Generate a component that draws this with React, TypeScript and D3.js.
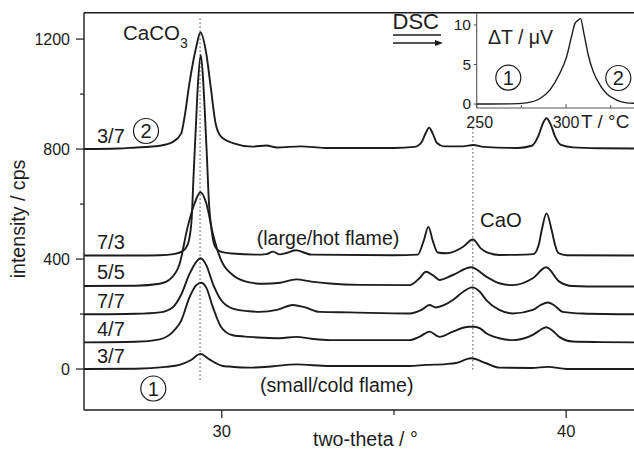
import React from "react";
import * as d3 from "d3";

// ---------- data ----------
// XRD patterns: [two-theta (deg), intensity (cps)] incl. vertical offset
const pattern37cold: [number, number][] = [
  [26, 0], [27.5, 1], [28.38, 8], [28.77, 15], [29.11, 33], [29.38, 55], [29.64, 35], [30.03, 11],
  [30.22, 9], [30.8, 5], [31.5, 10], [32.16, 17], [33.13, 11], [35.45, 11], [35.93, 15], [36.5, 18],
  [36.8, 22], [37.24, 39], [37.68, 21], [38.06, 5], [39.0, 4], [39.47, 8], [40.02, 0], [42, 0],
];
const pattern47: [number, number][] = [
  [26, 97], [27.5, 99], [28.2, 108], [28.58, 135], [28.82, 175], [29.06, 260], [29.26, 305], [29.4, 314],
  [29.55, 296], [29.74, 226], [29.98, 153], [30.32, 123], [30.8, 117], [31.2, 114], [31.68, 112],
  [32.16, 117], [32.6, 110], [33.13, 105], [35.45, 105], [35.75, 118], [36.03, 136], [36.32, 117],
  [36.71, 136], [37.0, 150], [37.19, 154], [37.34, 154], [37.5, 148], [37.68, 130], [38.06, 112],
  [38.45, 105], [39.03, 124], [39.25, 142], [39.42, 152], [39.6, 140], [39.8, 117], [40.19, 100],
  [41, 98], [42, 97],
];
const pattern77: [number, number][] = [
  [26, 199], [27.5, 201], [28.2, 206], [28.58, 225], [28.82, 270], [29.06, 345], [29.26, 390], [29.38, 403],
  [29.55, 378], [29.74, 311], [29.98, 251], [30.32, 220], [30.8, 210], [31.1, 208], [31.6, 215],
  [32.06, 233], [32.4, 225], [32.84, 208], [33.71, 206], [35.45, 202], [35.8, 215], [36.03, 233],
  [36.22, 224], [36.45, 232], [36.71, 251], [37.0, 280], [37.27, 297], [37.5, 280], [37.68, 251],
  [38.06, 215], [38.45, 202], [39.03, 215], [39.25, 232], [39.47, 242], [39.65, 232], [39.9, 208],
  [40.48, 202], [42, 199],
];
const pattern55: [number, number][] = [
  [26, 302], [27.5, 303], [28.2, 310], [28.48, 325], [28.77, 380], [29.01, 517], [29.21, 602], [29.38, 643],
  [29.55, 603], [29.74, 493], [29.98, 396], [30.32, 342], [30.8, 315], [31.2, 310], [31.7, 314],
  [32.16, 326], [32.6, 318], [33.13, 311], [34, 306], [35.45, 305], [35.74, 330], [35.93, 354],
  [36.18, 336], [36.32, 324], [36.71, 342], [37.24, 370], [37.68, 336], [38.06, 312], [38.45, 305],
  [39.03, 330], [39.42, 370], [39.8, 318], [40.19, 302], [41, 300], [42, 300],
];
const pattern73: [number, number][] = [
  [26, 413], [27.5, 413], [28.2, 414], [28.6, 418], [28.85, 428], [28.97, 443], [29.05, 470], [29.13, 554],
  [29.18, 700], [29.24, 860], [29.31, 1040], [29.39, 1142], [29.46, 1050], [29.52, 903], [29.57, 770],
  [29.63, 600], [29.7, 510], [29.79, 450], [29.95, 428], [30.3, 420], [31.0, 416], [31.3, 418],
  [31.49, 427], [31.68, 417], [31.9, 423], [32.16, 432], [32.4, 423], [32.6, 416], [35.0, 414],
  [35.69, 416], [35.86, 465], [36.0, 517], [36.13, 465], [36.27, 424], [36.52, 421], [37.0, 444],
  [37.29, 471], [37.53, 438], [37.72, 423], [38.06, 415], [38.8, 416], [39.05, 418], [39.2, 450],
  [39.29, 505], [39.43, 566], [39.58, 505], [39.68, 450], [39.77, 422], [40.02, 414], [42, 413],
];
const pattern37hot: [number, number][] = [
  [26, 800], [27, 802], [27.43, 805], [28.2, 812], [28.58, 826], [28.82, 856], [28.92, 917], [29.06, 1038],
  [29.26, 1172], [29.38, 1224], [29.55, 1148], [29.69, 1015], [29.82, 894], [29.98, 845], [30.32, 822],
  [30.9, 809], [31.3, 813], [31.6, 806], [32.3, 810], [33, 804], [35, 804], [35.6, 808], [35.8, 825],
  [35.93, 860], [36.02, 878], [36.12, 858], [36.25, 822], [36.45, 810], [37.0, 810], [37.3, 815],
  [37.6, 808], [38.6, 804], [39.0, 812], [39.2, 850], [39.33, 895], [39.43, 912], [39.55, 890],
  [39.68, 845], [39.85, 815], [40.2, 806], [41, 803], [42, 802],
];

const patterns = [pattern37cold, pattern47, pattern77, pattern55, pattern73, pattern37hot];
const sampleLabels = ["3/7", "4/7", "7/7", "5/5", "7/3", "3/7"];

// reference reflections (two-theta) and the extent of their dotted marker lines (cps)
const refPositions = [29.37, 37.29];
const refTop = [1275, 876];
const refBottom = [-50, -10];

const yTicksMajor = [0, 400, 800, 1200];
const yTicksMinor = [200, 600, 1000];
const xTicksMajor = [30, 40];
const xTicksMinor = [35];

// DSC inset: temperature (deg C) and delta T (microvolt)
const dscT = [250, 268.6, 277.9, 285.4, 291, 296.5, 300.3, 303, 305, 306.2, 308.1, 310, 312.4, 315.2, 319, 322.7, 328.3, 333.9, 338];
const dscDT = [0, 0.02, 0.15, 0.7, 1.8, 3.9, 6.0, 8.5, 10.2, 10.5, 10.8, 8.9, 6.2, 4.1, 2.4, 1.3, 0.5, 0.15, 0.1];
const dscYTicks = [0, 5, 10];
const dscXTicksMajor = [250, 300];
const dscXTicksMinor = [275, 325];

const FONT = "'Liberation Sans', Arial, Helvetica, sans-serif";
const INK = "#1c1c1c";

export default function App() {
  const W = 634;
  const H = 450;
  const left = 84, top = 12.7, bottom = 410, right = 634;

  const x = d3.scaleLinear().domain([26, 42]).range([left, left + 16 * 34.44]);
  const y = d3.scaleLinear().domain([-149, 1296]).range([bottom, top]);

  const line = d3
    .line<[number, number]>()
    .x((d) => x(d[0]))
    .y((d) => y(d[1]))
    .curve(d3.curveMonotoneX);

  // inset scales
  const iLeft = 476.7, iBottom = 108;
  const tx = d3.scaleLinear().domain([250, 338]).range([iLeft, 634]);
  const ty = d3.scaleLinear().domain([-0.5, 11.55]).range([iBottom, top]);
  const dscLine = d3
    .line<number>()
    .x((_, i) => tx(dscT[i]))
    .y((d) => ty(d))
    .curve(d3.curveMonotoneX);

  const circled = (cx: number, cy: number, label: string, key: string) => (
    <g key={key}>
      <circle cx={cx} cy={cy} r={12.5} fill="none" stroke={INK} strokeWidth={1.2} />
      <text x={cx} y={cy + 7} textAnchor="middle" fontSize={20} fill={INK}>
        {label}
      </text>
    </g>
  );

  return (
    <svg width={W} height={H} style={{ position: "absolute", left: 0, top: 0, background: "#fff" }} fontFamily={FONT}>
      <defs>
        <clipPath id="plotClip">
          <rect x={left} y={top} width={right - left} height={bottom - top} />
        </clipPath>
      </defs>
      <rect x={0} y={0} width={W} height={H} fill="#fff" />

      {/* dotted reference lines */}
      {refPositions.map((p, i) => (
        <line
          key={"ref" + i}
          x1={x(p)}
          x2={x(p)}
          y1={y(refTop[i])}
          y2={y(refBottom[i])}
          stroke="#444"
          strokeWidth={1.2}
          strokeDasharray="1.3,2.7"
        />
      ))}

      {/* patterns */}
      <g clipPath="url(#plotClip)">
        {patterns.map((p, i) => (
          <path key={"p" + i} d={line(p) || ""} fill="none" stroke={INK} strokeWidth={1.9} strokeLinejoin="round" />
        ))}
      </g>

      {/* frame */}
      <line x1={left} x2={right} y1={top} y2={top} stroke={INK} strokeWidth={1.4} />
      <line x1={left} x2={left} y1={top} y2={bottom} stroke={INK} strokeWidth={1.4} />
      <line x1={left} x2={right} y1={bottom} y2={bottom} stroke={INK} strokeWidth={1.4} />

      {/* y ticks */}
      {yTicksMajor.map((v) => (
        <g key={"yt" + v}>
          <line x1={left - 8} x2={left} y1={y(v)} y2={y(v)} stroke={INK} strokeWidth={1.2} />
          <text x={70} y={y(v) + 5.5} textAnchor="end" fontSize={16} fill={INK}>
            {v}
          </text>
        </g>
      ))}
      {yTicksMinor.map((v) => (
        <line key={"ym" + v} x1={left - 4} x2={left} y1={y(v)} y2={y(v)} stroke={INK} strokeWidth={1.2} />
      ))}

      {/* x ticks */}
      {xTicksMajor.map((v) => (
        <g key={"xt" + v}>
          <line x1={x(v)} x2={x(v)} y1={bottom} y2={bottom + 8} stroke={INK} strokeWidth={1.2} />
          <text x={x(v)} y={437} textAnchor="middle" fontSize={16.5} fill={INK}>
            {v}
          </text>
        </g>
      ))}
      {xTicksMinor.map((v) => (
        <line key={"xm" + v} x1={x(v)} x2={x(v)} y1={bottom} y2={bottom + 5} stroke={INK} strokeWidth={1.2} />
      ))}

      {/* axis titles */}
      <text x={313} y={446} fontSize={19.6} fill={INK}>
        two-theta / °
      </text>
      <text transform="translate(25,219) rotate(-90)" textAnchor="middle" fontSize={19.6} fill={INK}>
        intensity / cps
      </text>

      {/* sample labels */}
      {patterns.map((p, i) => (
        <text key={"lab" + i} x={97} y={y(p[0][1]) - 6.5} fontSize={20} fill={INK}>
          {sampleLabels[i]}
        </text>
      ))}
      {circled(146, 131, "2", "c2main")}
      {circled(153.3, 388.5, "1", "c1main")}

      {/* annotations */}
      <text x={123} y={40} fontSize={20.5} fill={INK}>
        CaCO
        <tspan dy={8} fontSize={14}>
          3
        </tspan>
      </text>
      <text x={480} y={226.5} fontSize={20.3} fill={INK}>
        CaO
      </text>
      <text x={256.7} y={245} fontSize={19.6} fill={INK}>
        (large/hot flame)
      </text>
      <text x={260} y={391.7} fontSize={19.6} fill={INK}>
        (small/cold flame)
      </text>

      {/* DSC arrow */}
      <text x={392.5} y={29} fontSize={22} fill={INK}>
        DSC
      </text>
      <line x1={393} x2={441} y1={35} y2={35} stroke={INK} strokeWidth={1.3} />
      <line x1={393} x2={437} y1={43} y2={43} stroke={INK} strokeWidth={1.3} />
      <path d="M435,40 L443,43 L435,46 Z" fill={INK} />

      {/* inset */}
      <line x1={iLeft} x2={iLeft} y1={top} y2={iBottom} stroke="#555" strokeWidth={1.1} />
      <line x1={iLeft} x2={634} y1={iBottom} y2={iBottom} stroke="#555" strokeWidth={1.1} />
      {dscYTicks.map((v) => (
        <g key={"iy" + v}>
          <line x1={iLeft - 3} x2={iLeft} y1={ty(v)} y2={ty(v)} stroke="#555" strokeWidth={1} />
          <text x={471} y={ty(v) + 5} textAnchor="end" fontSize={15.5} fill={INK}>
            {v}
          </text>
        </g>
      ))}
      {dscXTicksMajor.map((v) => (
        <g key={"ix" + v}>
          <line x1={tx(v)} x2={tx(v)} y1={iBottom} y2={iBottom - 4} stroke="#555" strokeWidth={1} />
          <text x={tx(v) + (v === 250 ? 3 : 0)} y={127.5} textAnchor="middle" fontSize={16} fill={INK}>
            {v}
          </text>
        </g>
      ))}
      {dscXTicksMinor.map((v) => (
        <line key={"ixm" + v} x1={tx(v)} x2={tx(v)} y1={iBottom} y2={iBottom - 3} stroke="#555" strokeWidth={1} />
      ))}
      <text x={581} y={127.5} fontSize={19} fill={INK}>
        T / °C
      </text>
      <path d={dscLine(dscDT) || ""} fill="none" stroke={INK} strokeWidth={1.4} />
      <text x={488} y={43.5} fontSize={19.5} fill={INK}>
        ΔT / μV
      </text>
      {circled(508.3, 77.7, "1", "c1in")}
      {circled(618.3, 78, "2", "c2in")}
    </svg>
  );
}
